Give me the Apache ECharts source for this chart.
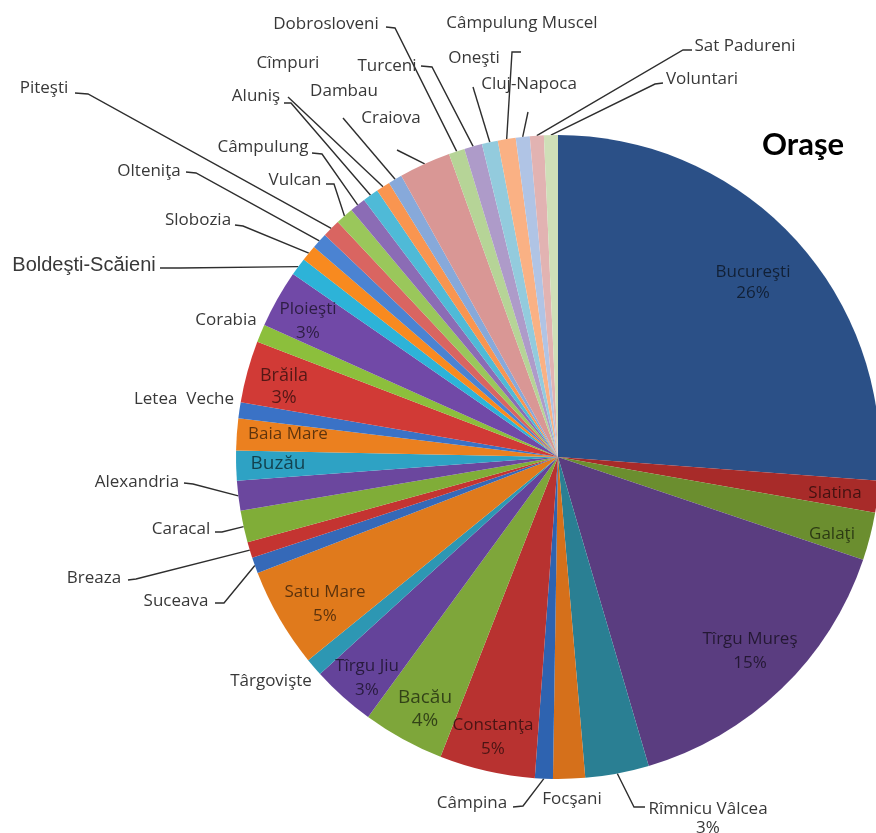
<!DOCTYPE html>
<html>
<head>
<meta charset="utf-8">
<script src="https://cdn.jsdelivr.net/npm/echarts@6/dist/echarts.min.js"></script>
<style>
html,body{margin:0;padding:0;background:#fff;}
#chart{width:876px;height:833px;}
</style>
</head>
<body>
<div id="chart"></div>
<script>
// ---- data ----
const cities = ['Bucureşti','Slatina','Galaţi','Tîrgu Mureş','Rîmnicu Vâlcea','Focşani','Câmpina','Constanţa','Bacău','Tîrgu Jiu','Târgovişte','Satu Mare','Suceava','Breaza','Caracal','Alexandria','Buzău','Baia Mare','Letea  Veche','Brăila','Corabia','Ploieşti','Boldeşti-Scăieni','Slobozia','Olteniţa','Piteşti','Vulcan','Câmpulung','Aluniş','Cîmpuri','Dambau','Craiova','Dobrosloveni','Turceni','Oneşti','Câmpulung Muscel','Cluj-Napoca','Sat Padureni','Voluntari'];
const shares = [26.2,1.6,2.4,15.3,3.2,1.6,0.9,4.8,4.1,3.2,0.9,5.0,0.8,0.8,1.6,1.5,1.5,1.6,0.8,3.1,0.9,2.9,0.9,0.8,0.8,0.9,0.9,0.8,0.8,0.7,0.7,2.6,0.8,0.9,0.8,0.9,0.7,0.7,0.7];
const withPercent = ['Bucureşti','Tîrgu Mureş','Rîmnicu Vâlcea','Constanţa','Bacău','Tîrgu Jiu','Satu Mare','Brăila','Ploieşti'];
const chartTitle = 'Oraşe';

// ---- styling (kept separate from data) ----
const sliceColors = ['#2b5087','#a82b29','#6b8e2f','#5a3d80','#2a7f93','#d5701b','#2e63b0','#b83230','#7ea63a','#64439a','#2d97b3','#e07a1c','#3569b8','#c43431','#80ad38','#6b479e','#2ea2c4','#eb801f','#3a72c6','#d13a36','#8cbf3c','#7149a7','#2db3d8','#f88a1f','#4b83d2','#d96561','#9ac75b','#8b6cb5','#4fbad7','#f99550','#87a9da','#d99795','#b6d497','#ae9bc9','#93cbdd','#fab184','#b0c4e5','#e2b3b2','#cfdfb8'];
const insideLabels = ['Bucureşti','Slatina','Galaţi','Tîrgu Mureş','Constanţa','Bacău','Tîrgu Jiu','Satu Mare','Buzău','Baia Mare','Brăila','Ploieşti'];
const labelSpots = {
 'Bucureşti':[753,282.5],'Slatina':[835,493],'Galaţi':[832,534.5],'Tîrgu Mureş':[750,651],
 'Rîmnicu Vâlcea':[708,819],'Focşani':[572,799.5],'Câmpina':[472,803],'Constanţa':[493,737],
 'Bacău':[425,709],'Tîrgu Jiu':[367,678],'Târgovişte':[271,681],'Satu Mare':[325,604],
 'Suceava':[176,601],'Breaza':[94,578],'Caracal':[181,529],'Alexandria':[137,482],
 'Buzău':[278,464],'Baia Mare':[288,434.5],'Letea  Veche':[184,399.5],'Brăila':[284,386.5],
 'Corabia':[226,320.5],'Ploieşti':[308,321],'Boldeşti-Scăieni':[84,265.7],'Slobozia':[198,220.5],
 'Olteniţa':[149,171],'Piteşti':[44,88],'Vulcan':[295,180.5],'Câmpulung':[263,147],
 'Aluniş':[256,96],'Cîmpuri':[288,63],'Dambau':[344,91],'Craiova':[391,118.5],
 'Dobrosloveni':[326,23.8],'Turceni':[387,66],'Oneşti':[474,58],'Câmpulung Muscel':[522,23],
 'Cluj-Napoca':[529,84],'Sat Padureni':[745,46],'Voluntari':[702,79.5]
};
const leaderBends = {
 'Rîmnicu Vâlcea':[[634,807],[645,807]],'Câmpina':[[523,806],[513,807]],
 'Suceava':[[224,603],[215,603]],'Breaza':[[136,579],[128,580]],
 'Caracal':[[222,532],[215,532]],'Alexandria':[[193,484],[184,483]],
 'Boldeşti-Scăieni':[[180,268],[160,268]],'Slobozia':[[243,226],[235,225]],
 'Olteniţa':[[196,173],[186,172]],'Piteşti':[[88,94],[75,93]],
 'Vulcan':[[334,184],[326,184]],'Câmpulung':[[322,154],[312,153]],
 'Aluniş':[[291,103],[284,103]],'Cîmpuri':[[288,97],[288,97]],
 'Dambau':[[343,118],[343,118]],'Craiova':[[397,150],[397,150]],
 'Dobrosloveni':[[395,28],[386,27]],'Turceni':[[432,67],[421,66]],
 'Oneşti':[[473,87],[473,87]],'Câmpulung Muscel':[[512,52],[521,52]],
 'Cluj-Napoca':[[528,112],[528,112]],'Sat Padureni':[[683,50],[692,50]],
 'Voluntari':[[655,84],[663,83]]
};
const lineHeights = {'Bucureşti':21,'Tîrgu Mureş':23.5,'Constanţa':24.5,'Bacău':23.5,'Tîrgu Jiu':24.5,'Satu Mare':24,'Brăila':22,'Ploieşti':24.5,'Rîmnicu Vâlcea':19};
const fontSizes = {'Bacău':19,'Buzău':19,'Brăila':18,'Boldeşti-Scăieni':20};

const chart = echarts.init(document.getElementById('chart'), null, {renderer:'canvas'});

const seriesData = cities.map((name, i) => {
  const inside = insideLabels.includes(name);
  const hasLine = !!leaderBends[name];
  return {
    name: name,
    value: shares[i],
    itemStyle: {color: sliceColors[i]},
    label: {
      position: hasLine ? 'outside' : 'inside',
      color: inside ? 'rgba(0,0,0,0.6)' : '#383838',
      fontSize: fontSizes[name] || 17,
      fontFamily: name === 'Boldeşti-Scăieni' ? 'Liberation Sans' : 'Open Sans',
      lineHeight: lineHeights[name] || 22
    },
    labelLine: {show: hasLine}
  };
});

chart.setOption({
  animation: false,
  backgroundColor: '#fff',
  graphic: [{
    type: 'text', x: 762, y: 145,
    style: {text: chartTitle, font: 'bold 31px Lato', fill: '#000', verticalAlign: 'middle', align: 'left'}
  }],
  series: [{
    type: 'pie',
    center: [558, 457],
    radius: 322,
    startAngle: 90,
    clockwise: true,
    avoidLabelOverlap: false,
    emphasis: {disabled: true},
    itemStyle: {borderWidth: 0},
    label: {
      show: true,
      formatter: p => withPercent.includes(p.name) ? p.name + '\n' + Math.round(p.percent) + '%' : p.name
    },
    labelLine: {show: false, length: 10, length2: 10, lineStyle: {color: '#2e2e2e', width: 1.4}},
    labelLayout: function (params) {
      const name = cities[params.dataIndex];
      const spot = labelSpots[name];
      const out = {x: spot[0], y: spot[1], align: 'center', verticalAlign: 'middle'};
      const bend = leaderBends[name];
      if (bend && params.labelLinePoints) {
        out.labelLinePoints = [params.labelLinePoints[0], bend[0], bend[1]];
      }
      return out;
    },
    data: seriesData
  }]
});
</script>
</body>
</html>
